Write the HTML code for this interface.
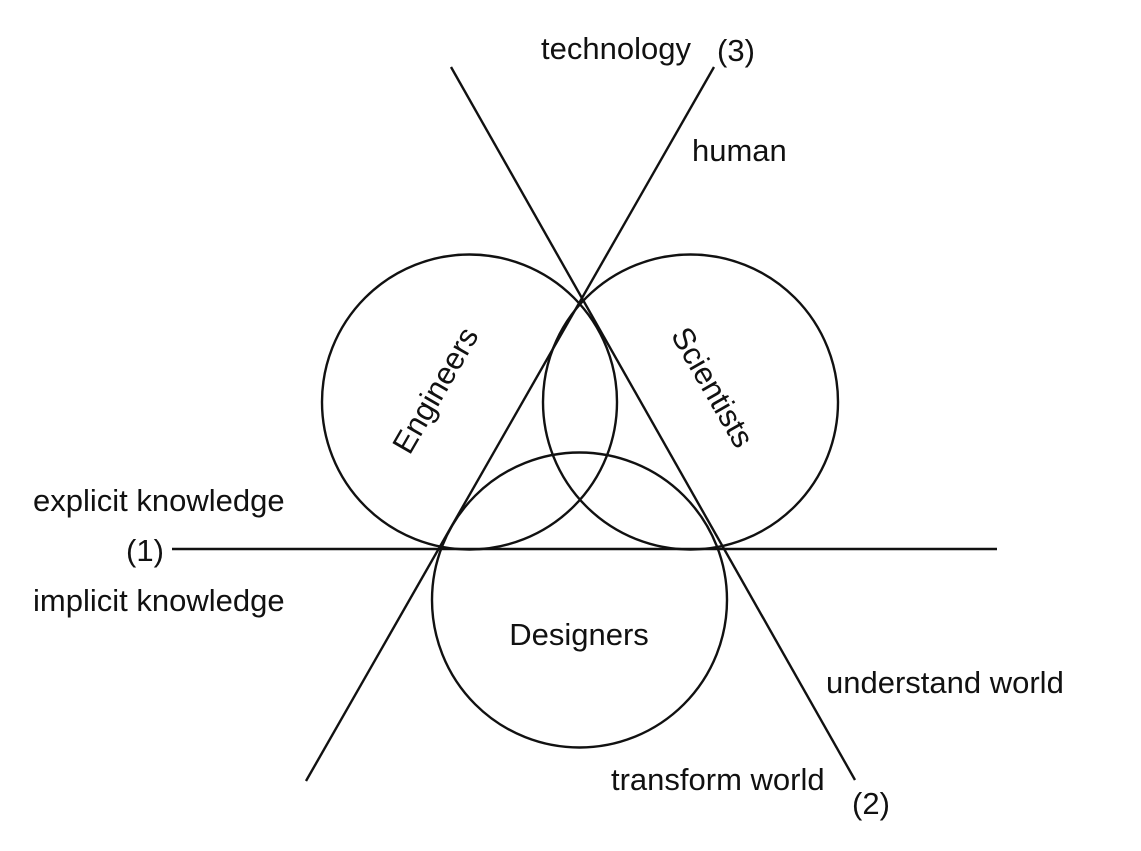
<!DOCTYPE html>
<html><head><meta charset="utf-8"><style>
html,body{margin:0;padding:0;background:#fff;}
</style></head><body>
<svg width="1141" height="851" viewBox="0 0 1141 851" xmlns="http://www.w3.org/2000/svg" style="display:block">
<g fill="none" stroke="#111" stroke-width="2.4">
<circle cx="469.5" cy="402" r="147.5"/>
<circle cx="690.5" cy="402" r="147.5"/>
<circle cx="579.5" cy="600" r="147.5"/>
<line x1="172" y1="549" x2="997" y2="549"/>
<line x1="451" y1="67" x2="855" y2="780"/>
<line x1="306" y1="781" x2="714" y2="67"/>
</g>
<g font-family="Liberation Sans, sans-serif" font-size="31" fill="#111">
<text x="541" y="59">technology</text>
<text x="717" y="61">(3)</text>
<text x="692" y="161">human</text>
<text x="33" y="511">explicit knowledge</text>
<text x="126" y="561">(1)</text>
<text x="33" y="611">implicit knowledge</text>
<text x="826" y="693">understand world</text>
<text x="611" y="790">transform world</text>
<text x="852" y="814">(2)</text>
<text x="579" y="645" text-anchor="middle">Designers</text>
<text x="0" y="0" text-anchor="middle" transform="translate(435,390) rotate(-60) translate(0,11)">Engineers</text>
<text x="0" y="0" text-anchor="middle" transform="translate(713,387) rotate(60) translate(0,11)">Scientists</text>
</g>
</svg>
</body></html>
